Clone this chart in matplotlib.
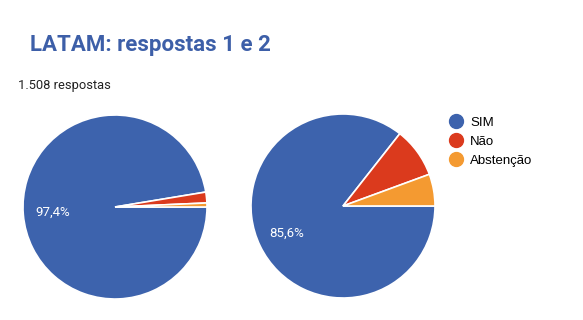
import matplotlib
matplotlib.use("Agg")
from matplotlib import pyplot as plt
from matplotlib.lines import Line2D

categories = ["SIM", "Não", "Abstenção"]
resposta_1 = [97.4, 1.9, 0.7]
resposta_2 = [85.6, 8.8, 5.6]
colors = ["#3d63ad", "#db3a1d", "#f49a31"]

title = "LATAM: respostas 1 e 2"
subtitle = "1.508 respostas"


def fmt(pct):
    if pct < 20:
        return ""
    return f"{pct:.1f}%".replace(".", ",")


W, H = 583, 320
fig = plt.figure(figsize=(W / 100, H / 100), dpi=100)

fig.text(30 / W, 1 - 45 / H, title, fontsize=16, fontweight="bold",
         family="Roboto", color="#3d5fa8", va="center", ha="left")
fig.text(18 / W, 1 - 86 / H, subtitle, fontsize=9.3, family="Roboto",
         color="#222222", va="center", ha="left")

r = 92
for cx, cy, data in [(115, 207, resposta_1), (343, 206, resposta_2)]:
    ax = fig.add_axes([(cx - r) / W, 1 - (cy + r) / H, 2 * r / W, 2 * r / H])
    wedges, texts, autotexts = ax.pie(
        data, colors=colors, startangle=0, counterclock=False,
        autopct=fmt, pctdistance=0.68,
        wedgeprops=dict(edgecolor="white", linewidth=1.2),
        textprops=dict(color="white", fontsize=9.5, family="Roboto"))
    ax.set_xlim(-1, 1)
    ax.set_ylim(-1, 1)
    ax.set_aspect("equal")

handles = [Line2D([0], [0], marker="o", linestyle="", markersize=10,
                  markerfacecolor=c, markeredgecolor=c) for c in colors]
fig.legend(handles, categories, loc="upper left",
           bbox_to_anchor=(431 / W, 1 - 105 / H), frameon=False,
           handletextpad=0.05, labelspacing=0.5,
           prop=dict(family="Liberation Sans", size=9.5))

fig.savefig("out.png", dpi=100)
